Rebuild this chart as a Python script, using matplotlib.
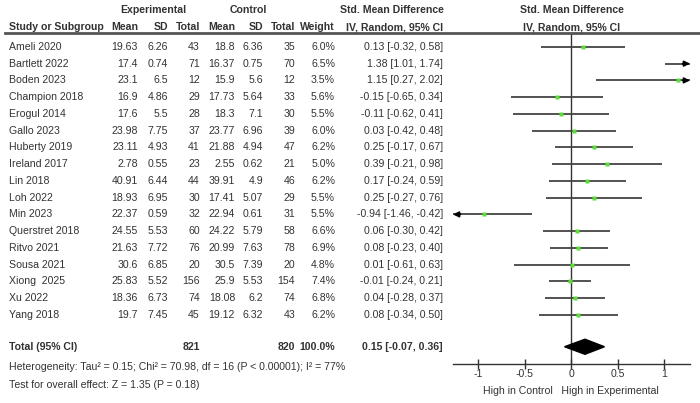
import numpy as np
import matplotlib
matplotlib.use('Agg')
import matplotlib.pyplot as plt
import matplotlib.transforms as mtrans
from matplotlib.patches import Polygon

plt.rcParams['font.family'] = ['Liberation Sans', 'DejaVu Sans']

studies = ['Ameli 2020', 'Bartlett 2022', 'Boden 2023', 'Champion 2018', 'Erogul 2014',
           'Gallo 2023', 'Huberty 2019', 'Ireland 2017', 'Lin 2018', 'Loh 2022', 'Min 2023',
           'Querstret 2018', 'Ritvo 2021', 'Sousa 2021', 'Xiong  2025', 'Xu 2022', 'Yang 2018']
exp_mean = ['19.63', '17.4', '23.1', '16.9', '17.6', '23.98', '23.11', '2.78', '40.91', '18.93',
            '22.37', '24.55', '21.63', '30.6', '25.83', '18.36', '19.7']
exp_sd = ['6.26', '0.74', '6.5', '4.86', '5.5', '7.75', '4.93', '0.55', '6.44', '6.95',
          '0.59', '5.53', '7.72', '6.85', '5.52', '6.73', '7.45']
exp_n = [43, 71, 12, 29, 28, 37, 41, 23, 44, 30, 32, 60, 76, 20, 156, 74, 45]
ctl_mean = ['18.8', '16.37', '15.9', '17.73', '18.3', '23.77', '21.88', '2.55', '39.91', '17.41',
            '22.94', '24.22', '20.99', '30.5', '25.9', '18.08', '19.12']
ctl_sd = ['6.36', '0.75', '5.6', '5.64', '7.1', '6.96', '4.94', '0.62', '4.9', '5.07',
          '0.61', '5.79', '7.63', '7.39', '5.53', '6.2', '6.32']
ctl_n = [35, 70, 12, 33, 30, 39, 47, 21, 46, 29, 31, 58, 78, 20, 154, 74, 43]
weight = [6.0, 6.5, 3.5, 5.6, 5.5, 6.0, 6.2, 5.0, 6.2, 5.5, 5.5, 6.6, 6.9, 4.8, 7.4, 6.8, 6.2]
smd = [0.13, 1.38, 1.15, -0.15, -0.11, 0.03, 0.25, 0.39, 0.17, 0.25, -0.94, 0.06, 0.08, 0.01, -0.01, 0.04, 0.08]
lo = [-0.32, 1.01, 0.27, -0.65, -0.62, -0.42, -0.17, -0.21, -0.24, -0.27, -1.46, -0.30, -0.23, -0.61, -0.24, -0.28, -0.34]
hi = [0.58, 1.74, 2.02, 0.34, 0.41, 0.48, 0.67, 0.98, 0.59, 0.76, -0.42, 0.42, 0.40, 0.63, 0.21, 0.37, 0.50]
total = (0.15, -0.07, 0.36)
ticks = [-1, -0.5, 0, 0.5, 1]

W, H = 700, 403
fig = plt.figure(figsize=(7, 4.03), dpi=100)
tc = '#333333'
fs = 7.6

def fx(px):
    return px / W

def fy(py):
    return 1 - py / H

# forest axes: x -1.27..1.28, rows in data units
x0, x1 = -1.27, 1.28
row_top, row_bot = -0.83, 18.93
ax = fig.add_axes([fx(453), fy(364), fx(690) - fx(453), fy(33) - fy(364)])
ax.set_xlim(x0, x1)
ax.set_ylim(row_bot, row_top)
for s in ['top', 'left', 'right']:
    ax.spines[s].set_visible(False)
ax.spines['bottom'].set_color('#333333')
ax.spines['bottom'].set_linewidth(1.0)
ax.set_yticks([])
ax.set_xticks(ticks)
ax.set_xticklabels(['-1', '-0.5', '0', '0.5', '1'])
ax.tick_params(axis='x', direction='inout', length=7, width=1, colors=tc, labelsize=fs, pad=0)
ax.axvline(0, color='#333333', lw=1)

for i in range(len(studies)):
    l = max(lo[i], x0)
    r = min(hi[i], x1)
    ax.plot([l, r], [i, i], color='#444444', lw=1.3, solid_capstyle='butt', zorder=2)
    if hi[i] > x1:
        ax.annotate('', xy=(x1, i), xytext=(x1 - 0.08, i),
                    arrowprops=dict(arrowstyle='-|>', color='black', lw=1.3,
                                    mutation_scale=8, shrinkA=0, shrinkB=0))
    if lo[i] < x0:
        ax.annotate('', xy=(x0, i), xytext=(x0 + 0.08, i),
                    arrowprops=dict(arrowstyle='-|>', color='black', lw=1.3,
                                    mutation_scale=8, shrinkA=0, shrinkB=0))
    ax.plot(smd[i], i, 's', ms=2.0 + weight[i] * 0.1, color='#5edc3c', mec='none', zorder=3)

trow = 17.9
ax.add_patch(Polygon([[total[1], trow], [total[0], trow - 0.45], [total[2], trow],
                      [total[0], trow + 0.45]], closed=True, color='black', zorder=3))
fig.text(fx(571), fy(391), 'High in Control   High in Experimental', ha='center', va='center',
         fontsize=fs, color=tc)

# header
fig.add_artist(plt.Line2D([fx(5), fx(700)], [fy(33), fy(33)], color='#555555', lw=2))
bold = dict(fontsize=fs, color=tc, fontweight='bold', va='center')
fig.text(fx(153), fy(10), 'Experimental', ha='center', **bold)
fig.text(fx(248), fy(10), 'Control', ha='center', **bold)
fig.text(fx(392), fy(10), 'Std. Mean Difference', ha='center', **bold)
fig.text(fx(572), fy(10), 'Std. Mean Difference', ha='center', **bold)
fig.text(fx(9), fy(27), 'Study or Subgroup', ha='left', **bold)
cols = [138, 168, 200, 235, 263, 295, 335, 443]
heads = ['Mean', 'SD', 'Total', 'Mean', 'SD', 'Total', 'Weight', 'IV, Random, 95% CI']
for c, h in zip(cols, heads):
    fig.text(fx(c), fy(27), h, ha='right', **bold)
fig.text(fx(572), fy(27), 'IV, Random, 95% CI', ha='center', **bold)

# table rows
rowtr = mtrans.blended_transform_factory(fig.transFigure, ax.transData)
norm = dict(fontsize=fs, color=tc, va='center', transform=rowtr)
for i in range(len(studies)):
    fig.text(fx(9), i, studies[i], ha='left', **norm)
    vals = [exp_mean[i], exp_sd[i], str(exp_n[i]), ctl_mean[i], ctl_sd[i], str(ctl_n[i]),
            '%.1f%%' % weight[i], '%.2f [%.2f, %.2f]' % (smd[i], lo[i], hi[i])]
    for c, v in zip(cols, vals):
        fig.text(fx(c), i, v, ha='right', **norm)

boldr = dict(norm, fontweight='bold')
fig.text(fx(9), trow, 'Total (95% CI)', ha='left', **boldr)
fig.text(fx(200), trow, str(sum(exp_n)), ha='right', **boldr)
fig.text(fx(295), trow, str(sum(ctl_n)), ha='right', **boldr)
fig.text(fx(335), trow, '100.0%', ha='right', **boldr)
fig.text(fx(443), trow, '%.2f [%.2f, %.2f]' % total, ha='right', **boldr)

fig.text(fx(9), fy(367), 'Heterogeneity: Tau\u00b2 = 0.15; Chi\u00b2 = 70.98, df = 16 (P < 0.00001); I\u00b2 = 77%',
         ha='left', va='center', fontsize=fs, color=tc)
fig.text(fx(9), fy(385), 'Test for overall effect: Z = 1.35 (P = 0.18)',
         ha='left', va='center', fontsize=fs, color=tc)

fig.savefig('out.png', dpi=100)
